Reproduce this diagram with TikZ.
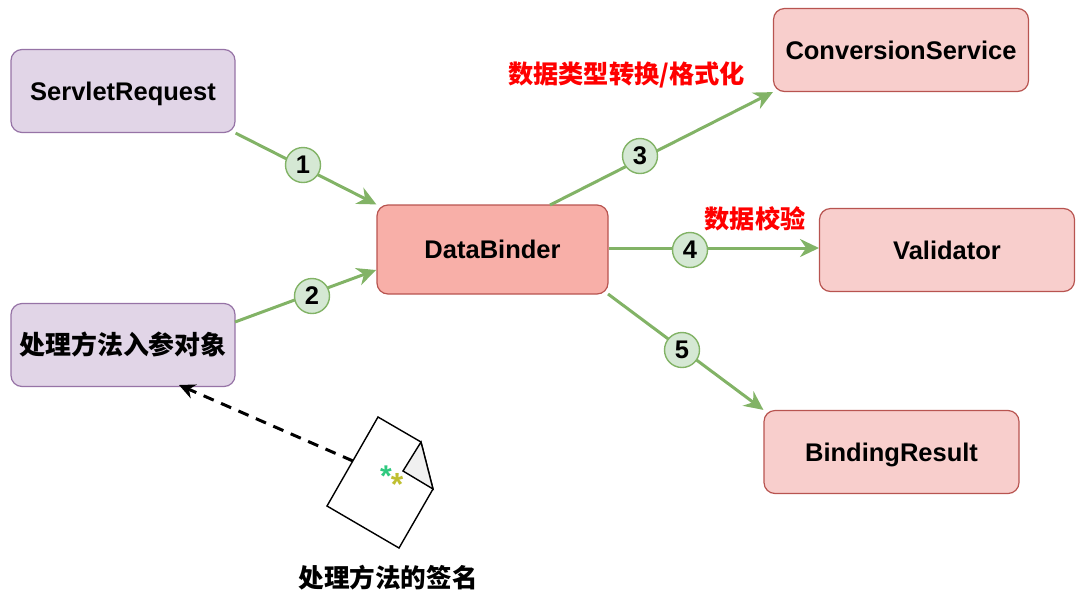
\documentclass[tikz,border=0pt]{standalone}
\usepackage{fontspec}
\setmainfont{Liberation Sans}
\newfontfamily\cjk{Noto Sans CJK SC}
\usetikzlibrary{arrows.meta}
\definecolor{purplefill}{HTML}{E1D5E7}
\definecolor{purpleline}{HTML}{9673A6}
\definecolor{redfill}{HTML}{F8CECC}
\definecolor{redline}{HTML}{B85450}
\definecolor{binderfill}{HTML}{F8AFA8}
\definecolor{greenfill}{HTML}{D5E8D4}
\definecolor{greenline}{HTML}{82B366}
\tikzset{
  box/.style={draw,rounded corners=11pt,line width=1.2pt,inner sep=0pt,text height=18pt,text depth=0pt,font=\fontsize{25.5}{30}\selectfont\bfseries},
  srcbox/.style={box,fill=purplefill,draw=purpleline,minimum width=224pt,minimum height=83pt},
  dstbox/.style={box,fill=redfill,draw=redline,minimum width=255pt,minimum height=83pt},
  num/.style={draw=greenline,fill=greenfill,circle,line width=1.4pt,minimum size=35pt,inner sep=0pt,font=\fontsize{25.5}{30}\selectfont\bfseries},
  link/.style={draw=greenline,line width=3pt,-{Stealth[length=19pt,width=18pt]}},
  note/.style={text=red,font=\fontsize{25.2}{30}\selectfont\cjk\bfseries},
  caption/.style={font=\fontsize{25.6}{30}\selectfont\cjk\bfseries}
}
\begin{document}
\begin{tikzpicture}[x=1pt,y=-1pt]
  \useasboundingbox (0,0) rectangle (1086,598);
  \node [srcbox] (request) at (123,91) {ServletRequest};
  \node [srcbox] (param) at (123,345) {\cjk\fontsize{25.9}{30}\selectfont 处理方法入参对象};
  \node [box,fill=binderfill,draw=redline,minimum width=231pt,minimum height=89pt] (binder) at (492.5,249.5) {DataBinder};
  \node [dstbox] (conversion) at (901,50) {ConversionService};
  \node [dstbox] (validator) at (947,250) {Validator};
  \node [dstbox] (result) at (891.5,452) {BindingResult};
  % start and end points away from the anchors
  \coordinate (paramout) at (235,322);
  \coordinate (binderin) at (376,270);
  \coordinate (binderup) at (550,205);
  \coordinate (binderright) at (609,248);
  \coordinate (validatorin) at (819,248);
  \coordinate (binderlow) at (608,294);
  \coordinate (paramin) at (179,385);
  \draw [link] (request.south east) -- (binder.north west);
  \draw [link] (paramout) -- (binderin);
  \draw [link] (binderup) -- (conversion.south west);
  \draw [link] (binderright) -- (validatorin);
  \draw [link] (binderlow) -- (result.north west);
  \node [num] (1) at (303,165) {1};
  \node [num] (2) at (312,296) {2};
  \node [num] (3) at (640,156) {3};
  \node [num] (4) at (690,250) {4};
  \node [num] (5) at (682,350) {5};
  \node [note] (convnote) at (626.5,74.5) {数据类型转换/格式化};
  \node [note] (checknote) at (755,218.5) {数据校验};
  % the page with its folded corner
  \coordinate (p1) at (378,417);
  \coordinate (p2) at (421,442);
  \coordinate (p3) at (433,489);
  \coordinate (p4) at (399,548);
  \coordinate (p5) at (327,506);
  \coordinate (p6) at (403,471);
  \coordinate (docleft) at (353,461);
  \draw [line width=1.4pt,fill=white] (p1) -- (p2) -- (p3) -- (p4) -- (p5) -- cycle;
  \draw [line width=1.4pt,fill=black!6] (p2) -- (p3) -- (p6) -- cycle;
  \node [text={rgb,255:red,47;green,201;blue,127},font=\fontsize{30}{30}\selectfont\bfseries,inner sep=0pt] (star1) at (386,476) {*};
  \node [text={rgb,255:red,191;green,191;blue,48},font=\fontsize{32}{32}\selectfont\bfseries,inner sep=0pt] (star2) at (397,484.5) {*};
  \draw [line width=3pt,dash pattern=on 11pt off 8pt,-{Stealth[length=16pt,width=15pt]}] (docleft) -- (paramin);
  \node [caption] (sign) at (388,578) {处理方法的签名};
\end{tikzpicture}
\end{document}
